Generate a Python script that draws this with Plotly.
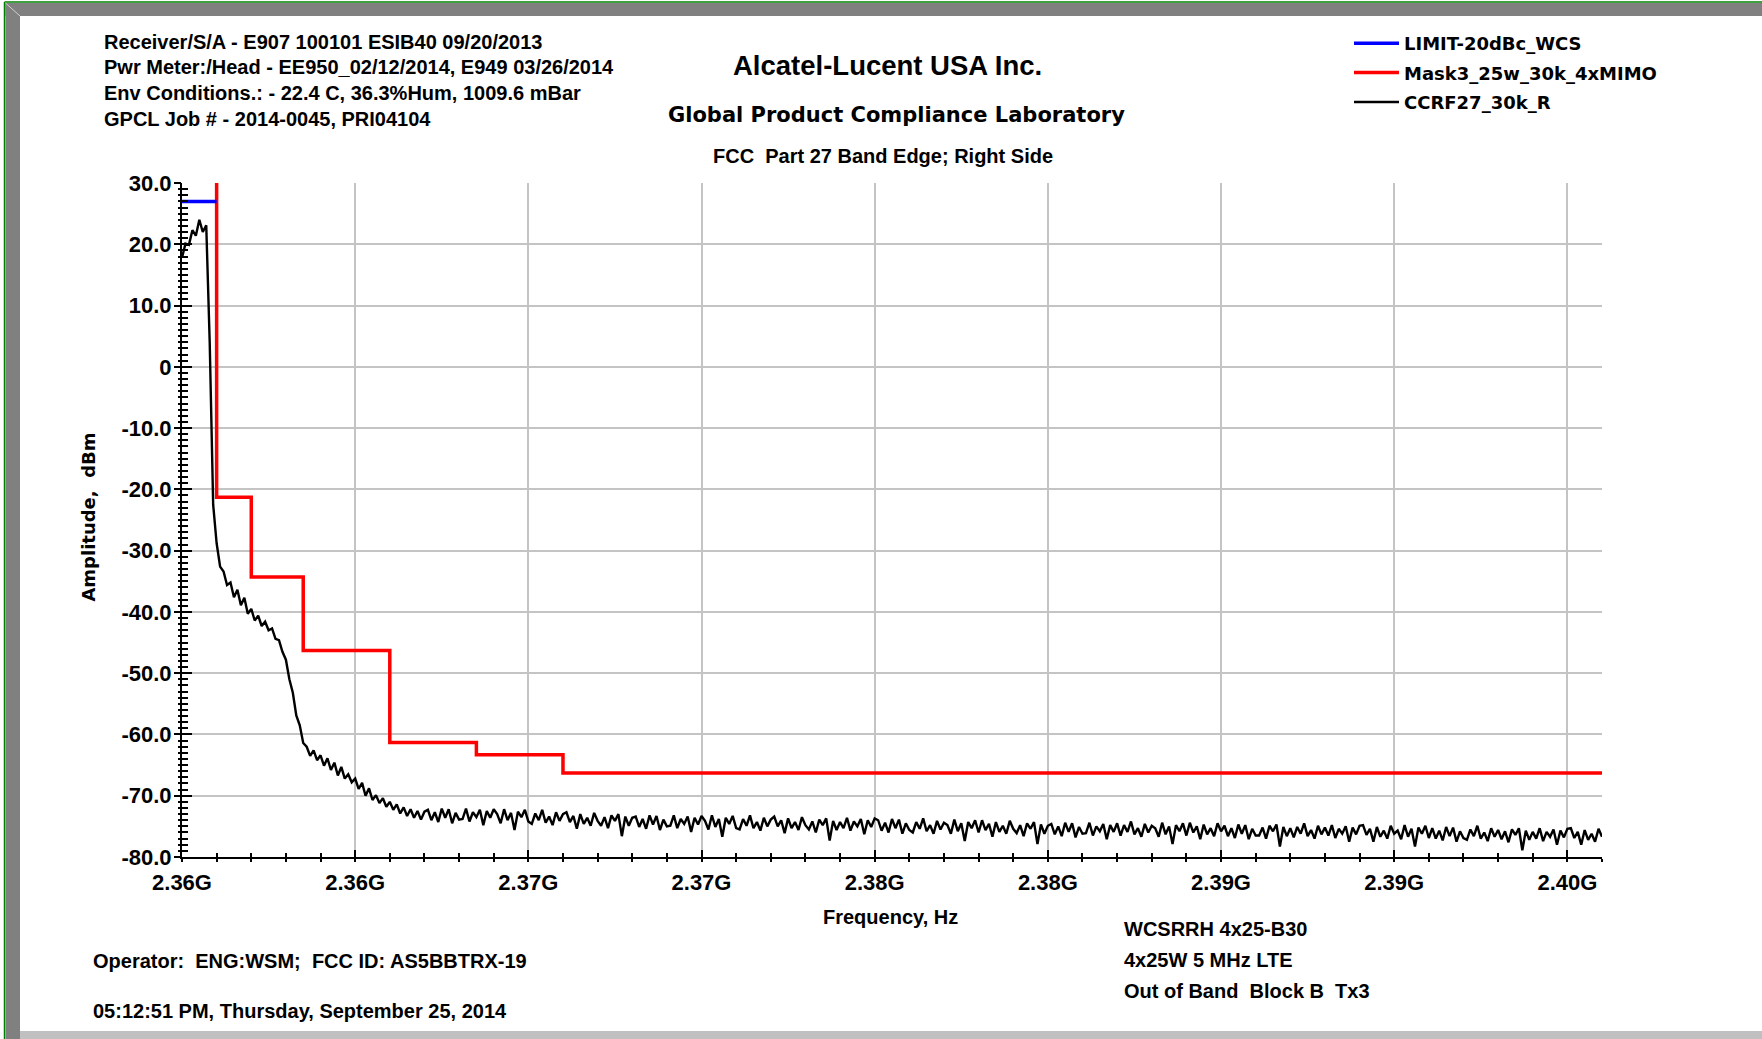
import numpy as np
import plotly.graph_objects as go

# ---------------------------------------------------------------- data
# Sweep: 2359.0 MHz .. 2400.0 MHz, one reading every 0.1 MHz
FREQ_START_HZ = 2.359e9
FREQ_STEP_HZ = 0.1e6

# CCRF27_30k_R trace, dBm (one value per sweep point)
ccrf27_dbm = [
    17.8, 20.1, 19.9, 22.3, 21.4, 24.0, 22.0, 23.1, 4.0, -22.5,
    -28.8, -32.6, -33.4, -35.6, -35.2, -37.6, -36.4, -38.9, -37.7, -40.3,
    -39.5, -41.4, -40.6, -42.3, -41.6, -43.0, -42.7, -44.4, -44.6, -46.5,
    -47.8, -51.0, -53.2, -56.9, -58.5, -61.4, -62.0, -63.5, -62.6, -64.2,
    -63.4, -65.1, -63.9, -65.8, -64.6, -66.7, -65.3, -67.2, -66.5, -67.8,
    -67.2, -68.9, -67.9, -70.0, -68.8, -70.7, -69.9, -71.2, -70.4, -71.8,
    -71.0, -72.3, -71.4, -72.9, -71.9, -73.3, -72.2, -73.6, -72.5, -73.9,
    -72.6,
    -72.3, -74.0, -72.7, -74.3, -72.1, -73.6, -72.2, -74.5, -72.8, -73.9,
    -73.8, -72.1, -74.2, -72.7, -73.5, -72.3, -74.8, -72.5, -73.6, -72.2,
    -73.0, -74.5, -72.2, -74.0, -72.8, -75.6, -72.6, -73.5, -72.3, -74.2,
    -74.6, -72.9, -74.0, -72.3, -74.4, -73.4, -74.8, -72.7, -74.1, -73.0,
    -72.7, -74.3, -73.3, -75.4, -73.0, -74.6, -73.6, -74.9, -72.8, -74.1,
    -74.9, -73.5, -75.3, -73.2, -74.1, -73.0, -76.6, -73.4, -74.9, -73.6,
    -73.4, -75.1, -73.8, -75.4, -73.2, -74.7, -73.3, -75.6, -73.9, -75.0,
    -74.9, -73.2, -75.3, -73.8, -74.6, -73.4, -75.9, -73.6, -74.7, -73.3,
    -74.1, -75.5, -73.2, -75.1, -73.8, -76.7, -73.6, -74.6, -73.3, -75.3,
    -75.5, -73.8, -74.9, -73.2, -75.3, -74.3, -75.7, -73.6, -75.0, -73.9,
    -73.4, -75.0, -74.0, -76.1, -73.7, -75.3, -74.3, -75.6, -73.5, -74.8,
    -75.5, -74.2, -76.0, -73.9, -74.8, -73.7, -77.3, -74.1, -75.6, -74.3,
    -75.3, -73.6, -75.7, -74.2, -75.0, -73.8, -76.3, -74.0, -75.1, -73.7,
    -74.0, -75.7, -74.4, -76.0, -73.8, -75.3, -73.9, -76.2, -74.5, -75.6,
    -76.0, -74.3, -75.4, -73.7, -75.8, -74.8, -76.2, -74.1, -75.5, -74.4,
    -74.8, -76.2, -73.9, -75.8, -74.5, -77.4, -74.3, -75.3, -74.0, -76.0,
    -74.0, -75.6, -74.6, -76.7, -74.3, -75.9, -74.9, -76.2, -74.1, -75.4,
    -76.1, -74.8, -76.6, -74.5, -75.4, -74.3, -77.9, -74.7, -76.2, -74.9,
    -74.6, -76.3, -75.0, -76.6, -74.4, -75.9, -74.5, -76.8, -75.1, -76.2,
    -76.1, -74.4, -76.5, -75.0, -75.8, -74.6, -77.1, -74.8, -75.9, -74.5,
    -76.5, -74.8, -75.9, -74.2, -76.3, -75.3, -76.7, -74.6, -76.0, -74.9,
    -75.3, -76.7, -74.4, -76.3, -75.0, -77.9, -74.8, -75.8, -74.5, -76.5,
    -74.4, -76.0, -75.0, -77.1, -74.7, -76.3, -75.3, -76.6, -74.5, -75.8,
    -74.9, -76.6, -75.3, -76.9, -74.7, -76.2, -74.8, -77.1, -75.4, -76.5,
    -76.5, -75.2, -77.0, -74.9, -75.8, -74.7, -78.3, -75.1, -76.6, -75.3,
    -76.8, -75.1, -76.2, -74.5, -76.6, -75.6, -77.0, -74.9, -76.3, -75.2,
    -76.5, -74.8, -76.9, -75.4, -76.2, -75.0, -77.5, -75.2, -76.3, -74.9,
    -74.8, -76.4, -75.4, -77.5, -75.1, -76.7, -75.7, -77.0, -74.9, -76.2,
    -75.7, -77.1, -74.8, -76.7, -75.4, -78.3, -75.2, -76.2, -74.9, -76.9,
    -75.3, -77.0, -75.7, -77.3, -75.1, -76.6, -75.2, -77.5, -75.8, -76.9,
    -77.2, -75.5, -76.6, -74.9, -77.0, -76.0, -77.4, -75.3, -76.7, -75.6,
    -77.1, -75.8, -77.6, -75.5, -76.4, -75.3, -78.9, -75.7, -77.2, -75.9,
    -77.0, -75.3, -77.4, -75.9, -76.7, -75.5, -78.0, -75.7, -76.8, -75.4,
    -75.3, -76.9, -75.9, -78.0, -75.6, -77.2, -76.2, -77.5, -75.4, -76.7,
]

# Mask3_25w_30k_4xMIMO: step limit (corner frequencies in Hz, level in dBm)
mask_freq_hz = [2.360e9, 2.360e9, 2.361e9, 2.3625e9, 2.365e9, 2.3675e9, 2.370e9, 2.400e9]
mask_dbm = [30.0, -21.3, -34.3, -46.3, -61.3, -63.3, -66.3, -66.3]

# LIMIT-20dBc_WCS
limit_freq_hz = [2.359e9, 2.360e9]
limit_dbm = [27.0, 27.0]

# Axis ticks
x_tick_hz = [2.359e9, 2.364e9, 2.369e9, 2.374e9, 2.379e9, 2.384e9, 2.389e9, 2.394e9, 2.399e9]
x_tick_text = ["2.36G", "2.36G", "2.37G", "2.37G", "2.38G", "2.38G", "2.39G", "2.39G", "2.40G"]
y_tick_dbm = [30, 20, 10, 0, -10, -20, -30, -40, -50, -60, -70, -80]
y_tick_text = ["30.0", "20.0", "10.0", "0", "-10.0", "-20.0", "-30.0", "-40.0",
               "-50.0", "-60.0", "-70.0", "-80.0"]
X_RANGE = [2.359e9, 2.400e9]
Y_RANGE = [-80, 30]

header_lines = [
    "Receiver/S/A - E907 100101 ESIB40 09/20/2013",
    "Pwr Meter:/Head - EE950_02/12/2014, E949 03/26/2014",
    "Env Conditions.: - 22.4 C, 36.3%Hum, 1009.6 mBar",
    "GPCL Job # - 2014-0045, PRI04104",
]
unit_lines = ["WCSRRH 4x25-B30", "4x25W 5 MHz LTE", "Out of Band  Block B  Tx3"]

# ---------------------------------------------------------------- layout helpers
W, H = 1762, 1039
ML, MR, MT, MB = 182, 160, 183, 182
PW, PH = W - ML - MR, H - MT - MB

ARIAL = "Liberation Sans"
WIDE = "DejaVu Sans"


def fx(px):
    return (px - ML) / PW


def fy(py):
    return (H - MB - py) / PH


freq_hz = FREQ_START_HZ + FREQ_STEP_HZ * np.arange(len(ccrf27_dbm))

fig = go.Figure()
fig.add_trace(go.Scatter(
    x=limit_freq_hz, y=limit_dbm, mode="lines", name="LIMIT-20dBc_WCS",
    line=dict(color="#0000ff", width=3.5), legendgroup="limit",
    xaxis="x2", yaxis="y2",
))
fig.add_trace(go.Scatter(
    x=mask_freq_hz, y=mask_dbm, mode="lines", name="Mask3_25w_30k_4xMIMO",
    line=dict(color="#ff0000", width=3.5, shape="hv"), legendgroup="mask",
))
fig.add_trace(go.Scatter(
    x=freq_hz, y=ccrf27_dbm, mode="lines", name="CCRF27_30k_R",
    line=dict(color="black", width=2.4), legendgroup="trace",
))

tick_font = dict(family=ARIAL, size=22, color="black", weight="bold")

fig.update_layout(
    width=W, height=H,
    margin=dict(l=ML, r=MR, t=MT, b=MB, pad=0),
    paper_bgcolor="white", plot_bgcolor="white",
    showlegend=True,
    legend=dict(
        x=fx(1349), y=fy(25), xanchor="left", yanchor="top",
        font=dict(family=WIDE, size=18, color="black", weight="bold"),
        bgcolor="rgba(0,0,0,0)", traceorder="grouped", tracegroupgap=3,
        itemwidth=45,
    ),
    xaxis=dict(
        range=X_RANGE, tickmode="array", tickvals=x_tick_hz, ticktext=x_tick_text,
        ticks="outside", ticklen=3, tickwidth=1.5, tickcolor="black",
        minor=dict(ticks="outside", ticklen=3, tickwidth=1.5, tickcolor="black",
                   tickmode="linear", tick0=2.359e9, dtick=1e6, showgrid=False),
        showgrid=True, gridcolor="#c4c4c4", gridwidth=1.5,
        showline=True, linecolor="black", linewidth=2, zeroline=False,
        tickfont=tick_font, ticklabelstandoff=2,
    ),
    yaxis=dict(
        range=Y_RANGE, tickmode="array", tickvals=y_tick_dbm, ticktext=y_tick_text,
        ticks="inside", ticklen=10, tickwidth=1.5, tickcolor="black",
        minor=dict(ticks="inside", ticklen=6, tickwidth=1.5, tickcolor="black",
                   tickmode="linear", tick0=0, dtick=1, showgrid=False),
        showgrid=True, gridcolor="#c4c4c4", gridwidth=1.5,
        showline=True, linecolor="black", linewidth=2, zeroline=False,
        tickfont=tick_font, ticklabelstandoff=4,
    ),
    xaxis2=dict(
        range=X_RANGE, overlaying="x", anchor="y2", side="bottom",
        tickmode="array", tickvals=x_tick_hz, showticklabels=False,
        ticks="inside", ticklen=7, tickwidth=1.5, tickcolor="black",
        minor=dict(ticks="inside", ticklen=4, tickwidth=1.5, tickcolor="black",
                   tickmode="linear", tick0=2.359e9, dtick=1e6, showgrid=False),
        showgrid=False, showline=False, zeroline=False,
    ),
    yaxis2=dict(
        range=Y_RANGE, overlaying="y", anchor="x2", side="left",
        tickmode="array", tickvals=y_tick_dbm, showticklabels=False,
        ticks="outside", ticklen=7, tickwidth=1.5, tickcolor="black",
        minor=dict(ticks="outside", ticklen=3, tickwidth=1.5, tickcolor="black",
                   tickmode="linear", tick0=0, dtick=1, showgrid=False),
        showgrid=False, showline=False, zeroline=False,
    ),
)

# ---------------------------------------------------------------- text blocks
annotations = []


def add_text(text, px, py, size, family=ARIAL, xanchor="left", angle=0):
    annotations.append(dict(
        text=text, x=fx(px), y=fy(py), xref="paper", yref="paper",
        xanchor=xanchor, yanchor="middle", showarrow=False, textangle=angle,
        font=dict(family=family, size=size, color="black", weight="bold"),
    ))


for i, line in enumerate(header_lines):
    add_text(line, 101.8, 41.6 + 25.8 * i, 20)

add_text("Alcatel-Lucent USA Inc.", 887, 65, 27.5, xanchor="center")
add_text("Global Product Compliance Laboratory", 896, 114.6, 21, family=WIDE, xanchor="center")
add_text("FCC  Part 27 Band Edge; Right Side", 883, 156, 20, xanchor="center")
add_text("Frequency, Hz", 890, 917, 20, xanchor="center")
add_text("Operator:  ENG:WSM;  FCC ID: AS5BBTRX-19", 91, 961, 20)
add_text("05:12:51 PM, Thursday, September 25, 2014", 91, 1011, 20)
for i, line in enumerate(unit_lines):
    add_text(line, 1122, 929.3 + 30.8 * i, 20)
add_text("Amplitude,  dBm", 87.6, 517, 18, family=WIDE, xanchor="center", angle=-90)

fig.update_layout(annotations=annotations)

# ---------------------------------------------------------------- window frame


def rect(x0, y0, x1, y1, color):
    return dict(type="rect", xref="paper", yref="paper",
                x0=fx(x0), x1=fx(x1), y0=fy(y0), y1=fy(y1),
                fillcolor=color, line=dict(width=0), layer="below")


def seg(x0, y0, x1, y1, color, width):
    return dict(type="line", xref="paper", yref="paper",
                x0=fx(x0), x1=fx(x1), y0=fy(y0), y1=fy(y1),
                line=dict(color=color, width=width), layer="below")


fig.update_layout(shapes=[
    rect(5.5, 3, W, 16, "#808080"),
    rect(5.5, 3, 20, H, "#808080"),
    rect(20, 1031, W, H, "#c0c0c0"),
    seg(4.5, 2, W, 2, "#008000", 1.5),
    seg(4.5, 2, 4.5, H, "#008000", 1.5),
    seg(5.5, 3, 20, 16, "#d0d0d0", 1),
])

fig.write_html("out.html")
